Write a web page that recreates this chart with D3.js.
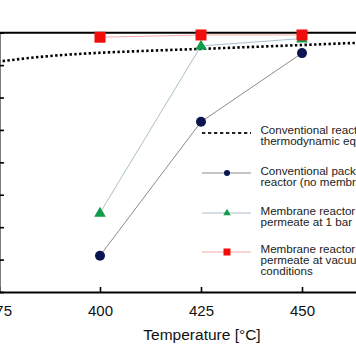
<!DOCTYPE html>
<html><head><meta charset="utf-8">
<script src="https://cdn.jsdelivr.net/npm/d3@7"></script>
<style>
html,body{margin:0;padding:0;background:#fff;overflow:hidden}
svg{display:block}
text{font-family:"Liberation Sans",Arial,sans-serif}
</style></head>
<body>
<svg id="c" width="356" height="364"></svg>
<script>
const temps = [400, 425, 450];
const packedBed = [31.2, 72.5, 93.7];
const membrane1bar = [44.4, 95.9, 98.2];
const membraneVacuum = [98.6, 99.3, 99.3];
const eqTemps = [370, 375, 387.5, 400, 412.5, 425, 437.5, 450, 462.5, 475];
const eqValues = [90.3, 91.1, 92.8, 93.8, 94.45, 95.0, 95.6, 96.2, 96.8, 97.2];
const xTicks = [375, 400, 425, 450, 475];
const yTicks = [20, 30, 40, 50, 60, 70, 80, 90, 100];
const legendLabels = [
  ["Conventional reactor at", "thermodynamic equilibrium"],
  ["Conventional packed bed", "reactor (no membrane)"],
  ["Membrane reactor with", "permeate at 1 bar"],
  ["Membrane reactor with", "permeate at vacuum", "conditions"]
];
const xTitle = "Temperature [°C]";

const svg = d3.select("#c");
const x = d3.scaleLinear().domain([375, 475]).range([-1, 403]);
const y = d3.scaleLinear().domain([20, 100]).range([292, 32.7]);

// top frame line
svg.append("line").attr("x1", -5).attr("x2", 420).attr("y1", y(100)).attr("y2", y(100))
  .attr("stroke", "#000").attr("stroke-width", 2);

// axes
const xa = svg.append("g").attr("transform", `translate(0,${y(20)})`)
  .call(d3.axisBottom(x).tickValues(xTicks).tickSize(-5).tickSizeOuter(0).tickFormat(d3.format("d")));
xa.select(".domain").attr("stroke-width", 2).attr("stroke", "#000");
xa.selectAll(".tick line").attr("stroke-width", 1.6).attr("stroke", "#000");
xa.selectAll(".tick text").attr("y", 24).attr("dy", 0).attr("font-size", 15)
  .attr("fill", "#111").style("font-family", "Liberation Sans, Arial, sans-serif");

const ya = svg.append("g").attr("transform", `translate(${x(375)},0)`)
  .call(d3.axisLeft(y).tickValues(yTicks).tickSize(-5).tickSizeOuter(0));
ya.select(".domain").attr("stroke-width", 2).attr("stroke", "#000");
ya.selectAll(".tick line").attr("stroke-width", 1.6).attr("stroke", "#000");
ya.selectAll(".tick text").attr("font-size", 15);

svg.append("text").attr("x", 202).attr("y", 340).attr("text-anchor", "middle")
  .attr("font-size", 15.5).attr("fill", "#111").text(xTitle);

// equilibrium dotted curve
const eqLine = d3.line().x((d, i) => x(eqTemps[i])).y(d => y(d)).curve(d3.curveMonotoneX);
svg.append("path").attr("d", eqLine(eqValues)).attr("fill", "none")
  .attr("stroke", "#000").attr("stroke-width", 2.6).attr("stroke-dasharray", "2.4,2.4");

const line = d3.line().x((d, i) => x(temps[i])).y(d => y(d));
// packed bed
svg.append("path").attr("d", line(packedBed)).attr("fill", "none").attr("stroke", "#8c8c8c").attr("stroke-width", 1);
svg.selectAll(".pb").data(packedBed).enter().append("circle")
  .attr("cx", (d, i) => x(temps[i])).attr("cy", d => y(d)).attr("r", 5).attr("fill", "#0b1650");
// membrane 1 bar
svg.append("path").attr("d", line(membrane1bar)).attr("fill", "none").attr("stroke", "#a9bfcb").attr("stroke-width", 1);
const tri = d3.symbol().type(d3.symbolTriangle).size(58);
svg.selectAll(".m1").data(membrane1bar).enter().append("path")
  .attr("d", tri).attr("transform", (d, i) => `translate(${x(temps[i])},${y(d) + 0.5})`).attr("fill", "#0f9d49");
// membrane vacuum
svg.append("path").attr("d", line(membraneVacuum)).attr("fill", "none").attr("stroke", "#f2aaa4").attr("stroke-width", 1);
svg.selectAll(".mv").data(membraneVacuum).enter().append("rect")
  .attr("x", (d, i) => x(temps[i]) - 5.5).attr("y", d => y(d) - 5.5).attr("width", 11).attr("height", 11).attr("fill", "#f20d0d");

// legend
const lx1 = 202, lx2 = 251, lmx = 227, tx = 260.5;
const legY = [133, 173, 213, 252];
const textY = [[133.7, 144.9], [174.7, 185.7], [214.7, 225.7], [252.7, 263.9, 275]];
svg.append("line").attr("x1", lx1).attr("x2", lx2).attr("y1", legY[0]).attr("y2", legY[0])
  .attr("stroke", "#222").attr("stroke-width", 2).attr("stroke-dasharray", "3.3,2.7");
svg.append("line").attr("x1", lx1).attr("x2", lx2).attr("y1", legY[1]).attr("y2", legY[1]).attr("stroke", "#8c8c8c").attr("stroke-width", 1);
svg.append("circle").attr("cx", lmx).attr("cy", legY[1]).attr("r", 3).attr("fill", "#0b1650");
svg.append("line").attr("x1", lx1).attr("x2", lx2).attr("y1", legY[2]).attr("y2", legY[2]).attr("stroke", "#a9bfcb").attr("stroke-width", 1);
svg.append("path").attr("d", d3.symbol().type(d3.symbolTriangle).size(24)).attr("transform", `translate(${lmx},${legY[2]})`).attr("fill", "#0f9d49");
svg.append("line").attr("x1", lx1).attr("x2", lx2).attr("y1", legY[3]).attr("y2", legY[3]).attr("stroke", "#f2aaa4").attr("stroke-width", 1);
svg.append("rect").attr("x", lmx - 3.5).attr("y", legY[3] - 3.5).attr("width", 7).attr("height", 7).attr("fill", "#f20d0d");

legendLabels.forEach((lines, k) => {
  lines.forEach((t, j) => {
    svg.append("text").attr("x", tx).attr("y", textY[k][j]).attr("font-size", 11.6)
      .attr("fill", "#222").text(t);
  });
});
</script>
</body></html>
